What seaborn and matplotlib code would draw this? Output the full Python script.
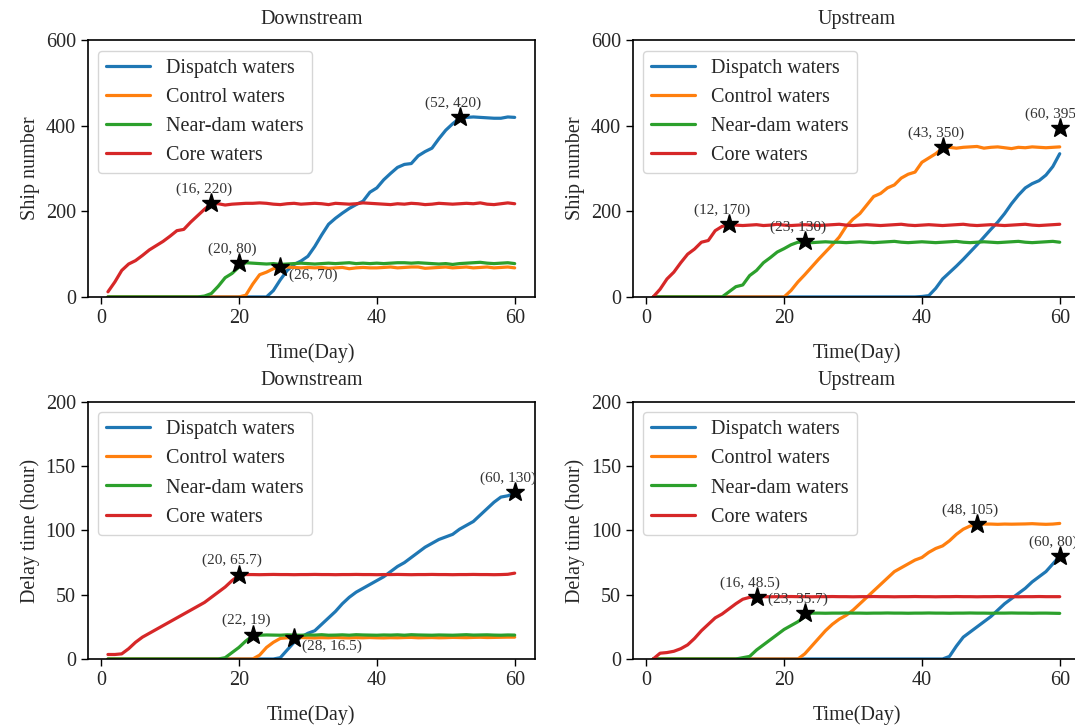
import pandas as pd
import numpy as np
import matplotlib
matplotlib.use('Agg')
import matplotlib.pyplot as plt
import seaborn as sns

# days 1..60
days = list(range(1, 61))
regions = ['Dispatch waters', 'Control waters', 'Near-dam waters', 'Core waters']
colors = ['#1f77b4', '#ff7f0e', '#2ca02c', '#d62728']

# Downstream - ship number
down_ship_dispatch = [0, 0, 0, 0, 0, 0, 0, 0, 0, 0,
                      0, 0, 0, 0, 0, 0, 0, 0, 0, 0,
                      0, 0, 0, 0, 15, 40, 62, 76, 84, 95,
                      118, 145, 170, 184, 196, 207, 216, 224, 245, 255,
                      274, 289, 303, 310, 312, 330, 340, 348, 370, 390,
                      405, 418, 420, 421, 420, 419, 418, 418, 421, 420]
down_ship_control = [0, 0, 0, 0, 0, 0, 0, 0, 0, 0,
                     0, 0, 0, 0, 0, 0, 0, 0, 0, 0,
                     4, 30, 52, 58, 66, 70, 70, 69, 68, 69,
                     68, 69, 67, 68, 69, 66, 68, 69, 68, 68,
                     69, 70, 68, 69, 70, 70, 67, 68, 69, 70,
                     68, 69, 70, 68, 69, 70, 68, 69, 70, 68]
down_ship_neardam = [0, 0, 0, 0, 0, 0, 0, 0, 0, 0,
                     0, 0, 0, 0, 2, 8, 25, 45, 55, 70,
                     80, 79, 78, 77, 78, 76, 77, 78, 79, 78,
                     77, 78, 79, 78, 79, 80, 78, 79, 78, 79,
                     78, 79, 80, 80, 79, 80, 79, 78, 77, 78,
                     76, 78, 79, 80, 81, 79, 78, 79, 80, 78]
down_ship_core = [12, 35, 62, 77, 85, 97, 110, 120, 130, 142,
                  155, 158, 175, 190, 205, 218, 218, 215, 217, 218,
                  219, 219, 220, 219, 217, 216, 218, 219, 217, 218,
                  219, 218, 216, 219, 218, 217, 218, 220, 219, 218,
                  217, 216, 218, 217, 219, 218, 216, 217, 219, 218,
                  217, 218, 219, 218, 220, 217, 216, 218, 220, 218]

# Upstream - ship number
up_ship_dispatch = [0, 0, 0, 0, 0, 0, 0, 0, 0, 0,
                    0, 0, 0, 0, 0, 0, 0, 0, 0, 0,
                    0, 0, 0, 0, 0, 0, 0, 0, 0, 0,
                    0, 0, 0, 0, 0, 0, 0, 0, 0, 1,
                    3, 20, 42, 57, 72, 88, 105, 122, 140, 158,
                    175, 195, 218, 238, 255, 265, 272, 285, 305, 335]
up_ship_control = [0, 0, 0, 0, 0, 0, 0, 0, 0, 0,
                   0, 0, 0, 0, 0, 0, 0, 0, 0, 0,
                   15, 35, 52, 70, 88, 105, 122, 140, 165, 182,
                   195, 215, 235, 242, 255, 262, 278, 287, 292, 315,
                   325, 335, 348, 350, 348, 350, 351, 352, 348, 350,
                   351, 349, 347, 350, 349, 351, 350, 349, 350, 351]
up_ship_neardam = [0, 0, 0, 0, 0, 0, 0, 0, 0, 0,
                   0, 12, 24, 28, 50, 62, 80, 92, 105, 113,
                   122, 128, 128, 127, 128, 129, 128, 128, 127, 128,
                   129, 128, 127, 128, 129, 130, 128, 127, 128, 129,
                   128, 127, 128, 129, 130, 128, 127, 128, 129, 128,
                   127, 128, 129, 130, 128, 127, 128, 129, 130, 128]
up_ship_core = [0, 18, 42, 58, 80, 100, 112, 128, 132, 155,
                165, 168, 168, 167, 168, 169, 167, 168, 170, 168,
                167, 168, 169, 168, 167, 168, 169, 170, 168, 167,
                168, 169, 168, 167, 168, 169, 170, 168, 167, 168,
                169, 168, 167, 168, 169, 170, 168, 167, 168, 169,
                168, 167, 168, 169, 170, 168, 167, 168, 169, 170]

# Downstream - delay time
down_delay_dispatch = [0, 0, 0, 0, 0, 0, 0, 0, 0, 0,
                       0, 0, 0, 0, 0, 0, 0, 0, 0, 0,
                       0, 0, 0, 0, 0, 1, 7, 13, 17, 20,
                       22, 27, 32, 37, 43, 48, 52, 55, 58, 61,
                       64, 68, 72, 75, 79, 83, 87, 90, 93, 95,
                       97, 101, 104, 107, 112, 117, 122, 126, 127, 129]
down_delay_control = [0, 0, 0, 0, 0, 0, 0, 0, 0, 0,
                      0, 0, 0, 0, 0, 0, 0, 0, 0, 0,
                      0, 0, 3, 9, 13, 16, 16.5, 16.5, 16.7, 16.5,
                      16.4, 16.6, 16.5, 16.8, 16.5, 16.4, 16.6, 16.5, 16.7, 16.5,
                      16.4, 16.6, 16.5, 16.7, 16.8, 16.5, 16.6, 16.7, 16.5, 16.6,
                      16.8, 16.7, 16.6, 16.8, 16.9, 16.7, 16.8, 16.9, 17.0, 17.0]
down_delay_neardam = [0, 0, 0, 0, 0, 0, 0, 0, 0, 0,
                      0, 0, 0, 0, 0, 0, 0, 1, 5, 9,
                      14, 18, 18.5, 18.7, 18.6, 18.5, 18.8, 18.6, 18.5, 18.7,
                      18.6, 18.9, 18.5, 18.6, 18.8, 18.5, 18.9, 18.7, 18.6, 18.5,
                      18.7, 18.6, 18.8, 18.5, 18.9, 18.7, 18.6, 18.5, 18.7, 18.6,
                      18.5, 18.7, 18.9, 18.6, 18.7, 18.8, 18.6, 18.5, 18.7, 18.6]
down_delay_core = [3.5, 3.5, 4, 8, 13, 17, 20, 23, 26, 29,
                   32, 35, 38, 41, 44, 48, 52, 56, 61, 65,
                   65.7, 65.7, 65.6, 65.7, 65.8, 65.7, 65.7, 65.6, 65.7, 65.7,
                   65.8, 65.7, 65.7, 65.6, 65.7, 65.7, 65.8, 65.7, 65.7, 65.6,
                   65.7, 65.7, 65.8, 65.7, 65.6, 65.7, 65.7, 65.8, 65.7, 65.7,
                   65.6, 65.7, 65.7, 65.8, 65.7, 65.7, 65.6, 65.7, 65.9, 66.8]

# Upstream - delay time
up_delay_dispatch = [0, 0, 0, 0, 0, 0, 0, 0, 0, 0,
                     0, 0, 0, 0, 0, 0, 0, 0, 0, 0,
                     0, 0, 0, 0, 0, 0, 0, 0, 0, 0,
                     0, 0, 0, 0, 0, 0, 0, 0, 0, 0,
                     0, 0, 0, 2, 10, 17, 21, 25, 29, 33,
                     38, 43, 47, 51, 55, 60, 64, 68, 74, 80]
up_delay_control = [0, 0, 0, 0, 0, 0, 0, 0, 0, 0,
                    0, 0, 0, 0, 0, 0, 0, 0, 0, 0,
                    0, 0, 4, 10, 16, 22, 27, 31, 34, 38,
                    43, 48, 53, 58, 63, 68, 71, 74, 77, 79,
                    83, 86, 88, 92, 97, 101, 103.5, 104.5, 105, 105,
                    104.8, 105, 104.9, 105, 105.1, 105.3, 105, 104.8, 105, 105.5]
up_delay_neardam = [0, 0, 0, 0, 0, 0, 0, 0, 0, 0,
                    0, 0, 0, 1, 2, 7, 11, 15, 19, 23,
                    26, 29, 33, 35.7, 35.7, 35.6, 35.7, 35.7, 35.8, 35.7,
                    35.7, 35.6, 35.7, 35.7, 35.8, 35.7, 35.7, 35.6, 35.7, 35.7,
                    35.8, 35.7, 35.7, 35.6, 35.7, 35.7, 35.8, 35.7, 35.7, 35.6,
                    35.7, 35.7, 35.8, 35.7, 35.7, 35.6, 35.7, 35.7, 35.6, 35.5]
up_delay_core = [0, 4.5, 5, 6, 8, 11, 16, 22, 27, 32,
                 35, 39, 43, 46.5, 48, 48.5, 48.5, 48.4, 48.5, 48.5,
                 48.6, 48.5, 48.5, 48.4, 48.5, 48.5, 48.6, 48.5, 48.5, 48.4,
                 48.5, 48.5, 48.6, 48.5, 48.5, 48.4, 48.5, 48.5, 48.6, 48.5,
                 48.5, 48.4, 48.5, 48.5, 48.6, 48.5, 48.5, 48.4, 48.5, 48.5,
                 48.6, 48.5, 48.5, 48.4, 48.5, 48.5, 48.6, 48.5, 48.5, 48.5]

# marked points (x, y) for each panel
down_ship_marks = [(16, 220), (20, 80), (26, 70), (52, 420)]
up_ship_marks = [(12, 170), (23, 130), (43, 350), (60, 395)]
down_delay_marks = [(20, 65.7), (22, 19), (28, 16.5), (60, 130)]
up_delay_marks = [(16, 48.5), (23, 35.7), (48, 105), (60, 80)]
# points whose label sits to the lower right of the star
side_labels = [(26, 70), (28, 16.5)]

sns.set_theme(style='ticks')
plt.rcParams['font.family'] = ['Liberation Serif', 'DejaVu Serif']
fs = 14.5

fig = plt.figure(figsize=(10.75, 7.26), dpi=100)
positions = [[0.0815, 0.591, 0.4162, 0.3533],
             [0.5887, 0.591, 0.416, 0.3533],
             [0.0815, 0.0923, 0.4162, 0.354],
             [0.5887, 0.0923, 0.416, 0.354]]

panels = [
    ('Downstream', 'Ship number', (0, 600), [0, 200, 400, 600],
     [down_ship_dispatch, down_ship_control, down_ship_neardam, down_ship_core], down_ship_marks),
    ('Upstream', 'Ship number', (0, 600), [0, 200, 400, 600],
     [up_ship_dispatch, up_ship_control, up_ship_neardam, up_ship_core], up_ship_marks),
    ('Downstream', 'Delay time (hour)', (0, 200), [0, 50, 100, 150, 200],
     [down_delay_dispatch, down_delay_control, down_delay_neardam, down_delay_core], down_delay_marks),
    ('Upstream', 'Delay time (hour)', (0, 200), [0, 50, 100, 150, 200],
     [up_delay_dispatch, up_delay_control, up_delay_neardam, up_delay_core], up_delay_marks),
]

for pos, (title, ylabel, ylim, yticks, series, marks) in zip(positions, panels):
    ax = fig.add_axes(pos)
    frames = []
    for name, vals in zip(regions, series):
        frames.append(pd.DataFrame({'day': days, 'value': vals, 'region': name}))
    df = pd.concat(frames, ignore_index=True)
    sns.lineplot(data=df, x='day', y='value', hue='region', hue_order=regions,
                 palette=colors, linewidth=2.3, ax=ax)

    mx = [m[0] for m in marks]
    my = [m[1] for m in marks]
    ax.plot(mx, my, linestyle='none', marker='*', markersize=14,
            color='black', markeredgecolor='black', zorder=5)
    for x, y in marks:
        txt = '({}, {})'.format(x, y)
        if (x, y) in side_labels:
            ax.annotate(txt, (x, y), xytext=(6, -6), textcoords='offset points',
                        ha='left', va='center', fontsize=11, color='#333333')
        else:
            ax.annotate(txt, (x, y), xytext=(-5, 10), textcoords='offset points',
                        ha='center', va='center', fontsize=11, color='#333333')

    ax.set_ylim(*ylim)
    ax.set_yticks(yticks)
    ax.set_xticks([0, 20, 40, 60])
    ax.set_title(title, fontsize=fs, pad=12)
    ax.set_xlabel('Time(Day)', fontsize=fs, labelpad=11)
    ax.set_ylabel(ylabel, fontsize=fs)
    ax.tick_params(labelsize=fs, direction='out', length=5, width=1, color='black')
    for sp in ax.spines.values():
        sp.set_color('black')
        sp.set_linewidth(1.2)

    handles, labels = ax.get_legend_handles_labels()
    ax.legend(handles, labels, loc='upper left', fontsize=fs, handlelength=2.2,
              labelspacing=0.5, frameon=True, fancybox=True, framealpha=0.8,
              edgecolor='#cccccc')

fig.savefig('out.png', dpi=100)
